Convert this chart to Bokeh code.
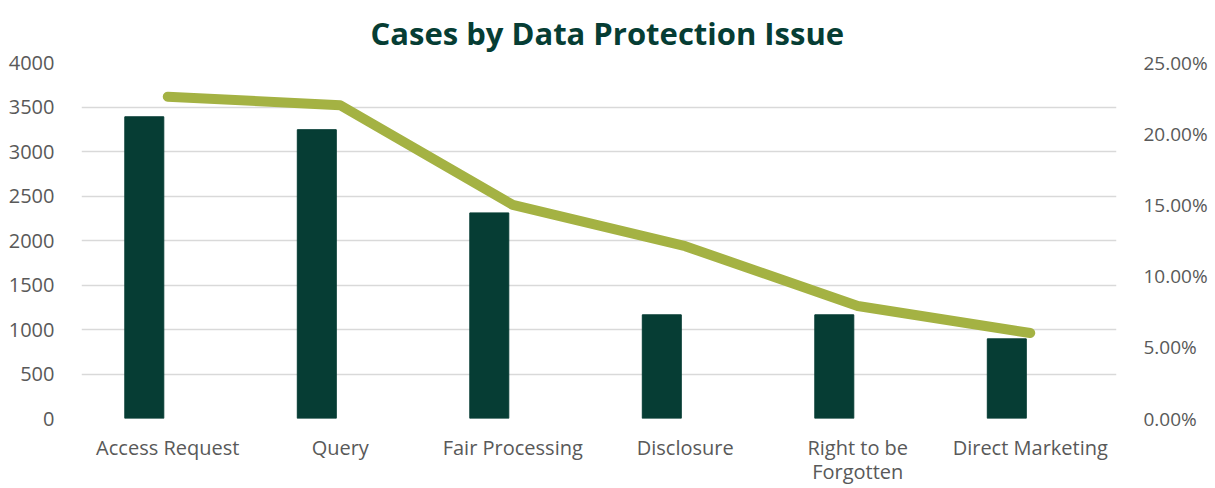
from bokeh.plotting import figure
from bokeh.models import (Range1d, LinearAxis, NumeralTickFormatter, FactorRange,
                          FixedTicker, ColumnDataSource)
from bokeh.transform import dodge
from bokeh.embed import file_html
from bokeh.resources import INLINE

title_text = "Cases by Data Protection Issue"
categories = ["Access Request", "Query", "Fair Processing", "Disclosure",
              "Right to be\nForgotten", "Direct Marketing"]
cases = [3390, 3245, 2310, 1165, 1165, 895]
share = [0.226, 0.220, 0.150, 0.121, 0.079, 0.060]
left_ticks = [0, 500, 1000, 1500, 2000, 2500, 3000, 3500, 4000]
right_ticks = [0.0, 0.05, 0.10, 0.15, 0.20, 0.25]

DARK = "#063D34"
OLIVE = "#A4B243"
GREY = "#595959"
FONT = "Open Sans"

src = ColumnDataSource(data=dict(cat=categories, cases=cases, share=share))

p = figure(width=1215, height=488, x_range=FactorRange(*categories),
           y_range=Range1d(0, 4000), output_backend="svg", toolbar_location=None,
           min_border_left=81, min_border_right=99, min_border_top=62,
           min_border_bottom=70)
p.extra_y_ranges = {"pct": Range1d(0, 0.25)}

p.title.text = title_text
p.title.align = "left"
p.title.offset = 289
p.title.text_font = FONT
p.title.text_font_style = "bold"
p.title.text_font_size = "31px"
p.title.text_color = DARK
p.title.standoff = 18

p.vbar(x=dodge("cat", -0.136, range=p.x_range), top="cases", width=0.226,
       source=src, color=DARK)
p.line(x="cat", y="share", y_range_name="pct", source=src, line_width=10,
       color=OLIVE, line_cap="round", line_join="round")

p.outline_line_color = None
p.xgrid.grid_line_color = None
p.ygrid.grid_line_color = "#D9D9D9"
p.ygrid.grid_line_width = 1.5

p.yaxis.ticker = FixedTicker(ticks=left_ticks)
right = LinearAxis(y_range_name="pct", ticker=FixedTicker(ticks=right_ticks),
                   formatter=NumeralTickFormatter(format="0.00%"))
p.add_layout(right, "right")

for ax in p.axis:
    ax.axis_line_color = None
    ax.major_tick_line_color = None
    ax.minor_tick_line_color = None
    ax.major_label_text_font = FONT
    ax.major_label_text_color = GREY
p.yaxis[0].major_label_text_font_size = "20px"
right.major_label_text_font_size = "19px"
p.xaxis.major_label_text_font_size = "20px"
p.xaxis.major_label_text_line_height = 0.9
p.yaxis[0].major_label_standoff = 21
right.major_label_standoff = 21
p.xaxis.major_label_standoff = 9

open("out.html", "w").write(file_html(p, INLINE))
